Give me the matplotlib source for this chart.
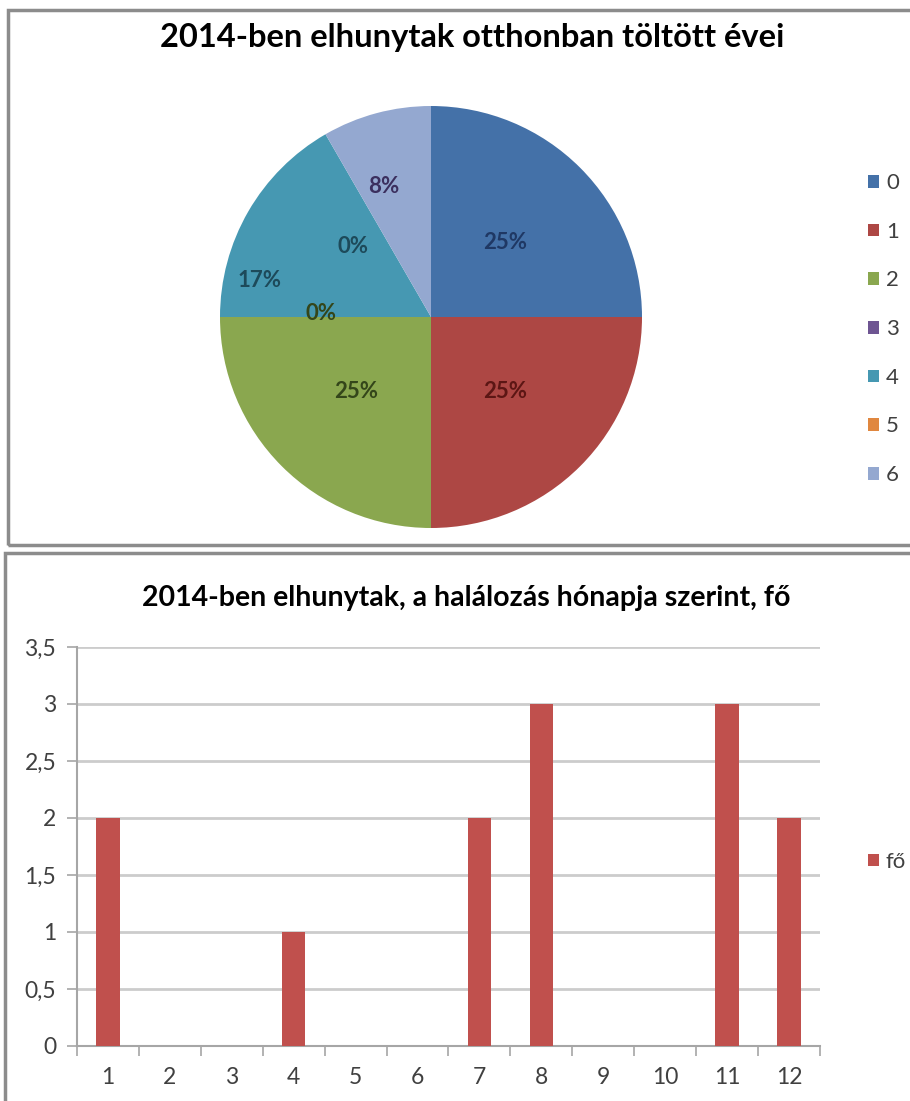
# -*- coding: utf-8 -*-
#%% Importações

import matplotlib.pyplot as plt
from matplotlib.patches import Rectangle
from matplotlib.ticker import FuncFormatter
import numpy as np

#%% Dados

evek = ['0', '1', '2', '3', '4', '5', '6']
evek_db = [3, 3, 3, 0, 2, 0, 1]
evek_pct = ['25%', '25%', '25%', '0%', '17%', '0%', '8%']

honapok = ['1', '2', '3', '4', '5', '6', '7', '8', '9', '10', '11', '12']
elhunytak = [2, 0, 0, 1, 0, 0, 2, 3, 0, 0, 3, 2]

cim_torta = '2014-ben elhunytak otthonban töltött évei'
cim_oszlop = '2014-ben elhunytak, a halálozás hónapja szerint, fő'

#%% Stílus

plt.rcParams['font.family'] = ['Lato', 'DejaVu Sans']
szinek = ['#4471a8', '#ad4744', '#8aa74f', '#6e5592', '#4698b2', '#e0873f', '#94a8d0']
cimke_szinek = ['#1f3864', '#5c1614', '#34461a', '#34461a', '#1d4a5a', '#1d4a5a', '#3b2f5e']
# címkék helye (sugár arány, szög fokban), None = szelet közepe
cimke_tav = [0.5, 0.5, 0.5, 0.52, 0.83, 0.5, 0.66]
cimke_szog = [None, None, None, 178, 168, 138, 110]
W, H = 910, 1101
szurke = '#404040'

fig = plt.figure(figsize=(W / 100, H / 100), dpi=100)

# keretek
fig.patches.append(Rectangle((8 / W, 1 - 545 / H), 905 / W, 535 / H, transform=fig.transFigure,
                             fill=False, edgecolor='#8c8c8c', linewidth=2.5))
fig.patches.append(Rectangle((5 / W, -0.01), 910 / W, 1 - 553 / H + 0.01, transform=fig.transFigure,
                             fill=False, edgecolor='#8c8c8c', linewidth=2.5))

#%% Kördiagram

ax1 = fig.add_axes([220 / W, 1 - 528 / H, 422 / W, 422 / H])
wedges, _ = ax1.pie(evek_db, colors=szinek, startangle=90, counterclock=False, radius=1.0)
ax1.set_xlim(-1, 1)
ax1.set_ylim(-1, 1)
ax1.set_aspect('equal')
ax1.axis('off')

for w, pct, tav, szg, c in zip(wedges, evek_pct, cimke_tav, cimke_szog, cimke_szinek):
    if szg is None:
        szg = (w.theta1 + w.theta2) / 2
    szog = np.deg2rad(szg)
    ax1.text(tav * np.cos(szog), tav * np.sin(szog), pct, ha='center', va='center',
             fontsize=16, fontweight='bold', color=c)

fig.text(472 / W, 1 - 38 / H, cim_torta, ha='center', va='center', fontsize=23.5, fontweight='bold')

fig.legend(wedges, evek, loc='upper left', bbox_to_anchor=(857 / W, 1 - 162 / H), frameon=False,
           fontsize=16, handlelength=0.5, handleheight=0.5, handletextpad=0.3,
           labelspacing=1.29, borderpad=0, labelcolor=szurke)

#%% Oszlopdiagram

ax2 = fig.add_axes([77 / W, 1 - 1046 / H, 743 / W, 399 / H])
x = np.arange(len(honapok))
oszlopok = ax2.bar(x, elhunytak, width=0.38, color='#c0504d', label='fő', zorder=3)
ax2.set_xlim(-0.5, len(honapok) - 0.5)
ax2.set_ylim(0, 3.5)
ax2.set_yticks(np.arange(0, 3.51, 0.5))
ax2.yaxis.set_major_formatter(FuncFormatter(lambda v, p: f'{v:g}'.replace('.', ',')))
ax2.set_xticks(x)
ax2.set_xticklabels(honapok)
ax2.set_xticks(np.arange(-0.5, len(honapok), 1), minor=True)
ax2.tick_params(axis='x', which='major', length=0, pad=15, labelsize=16.5, labelcolor=szurke)
ax2.tick_params(axis='x', which='minor', length=7, color='#a6a6a6', width=1.2)
ax2.tick_params(axis='y', length=7, color='#a6a6a6', width=1.2, labelsize=16.5, labelcolor=szurke, pad=8)
ax2.grid(axis='y', color='#cccccc', linewidth=2, zorder=0)
for s in ['top', 'right']:
    ax2.spines[s].set_visible(False)
for s in ['left', 'bottom']:
    ax2.spines[s].set_color('#a6a6a6')
    ax2.spines[s].set_linewidth(1.5)

fig.text(466 / W, 1 - 598 / H, cim_oszlop, ha='center', va='center', fontsize=20.5, fontweight='bold')

fig.legend([oszlopok], ['fő'], loc='center left', bbox_to_anchor=(857 / W, 1 - 862 / H), frameon=False,
           fontsize=16, handlelength=0.5, handleheight=0.5, handletextpad=0.3, borderpad=0,
           labelcolor=szurke)

plt.savefig('out.png', dpi=100)
